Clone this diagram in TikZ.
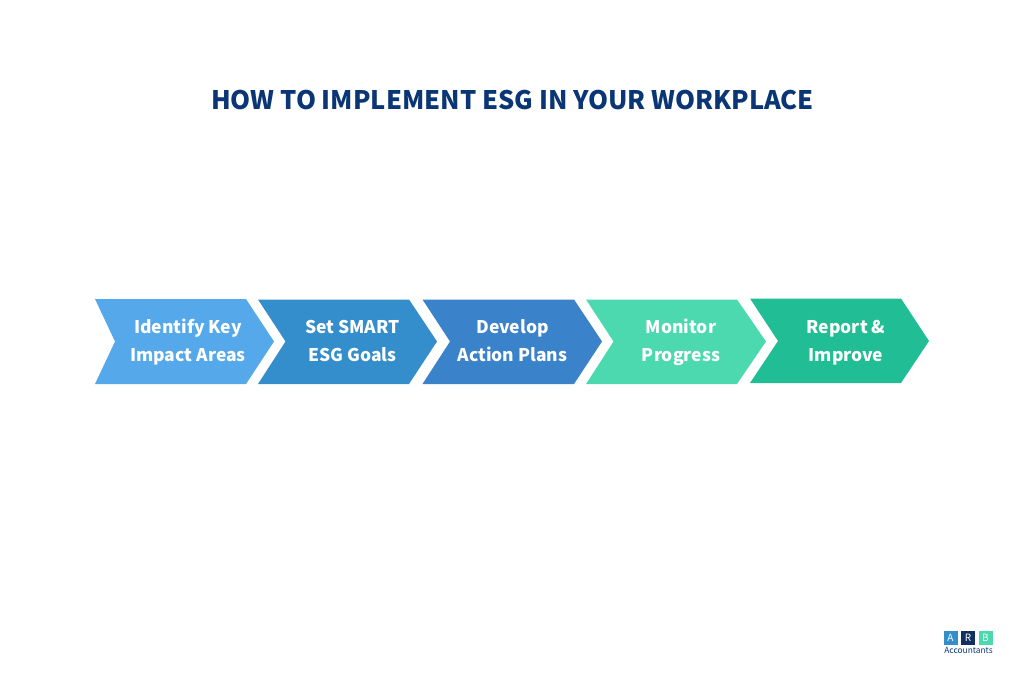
\documentclass[tikz,border=0pt]{standalone}
\usepackage{fontspec}
\setmainfont{Noto Sans CJK SC}
\definecolor{titleblue}{HTML}{0A3675}
\definecolor{skyblue}{HTML}{55A8EA}
\definecolor{midblue}{HTML}{348ECC}
\definecolor{deepblue}{HTML}{3A82CA}
\definecolor{mint}{HTML}{4DD9B0}
\definecolor{teal}{HTML}{21BD94}
\definecolor{logonavy}{HTML}{12305F}
\tikzset{
  titletext/.style={text=titleblue,font=\bfseries\fontsize{25.5}{30}\selectfont},
  steptext/.style={text=white,align=center,font=\bfseries\fontsize{17.5}{28}\selectfont},
  logobox/.style={text=white,minimum size=14pt,inner sep=0pt,font=\fontsize{10}{11}\selectfont},
  logotext/.style={text=titleblue,inner sep=0pt,font=\fontsize{8.4}{9}\selectfont}
}
\begin{document}
\begin{tikzpicture}[x=1pt,y=-1pt]
  \useasboundingbox (0,0) rectangle (1024,683);
  \node[titletext] (title) at (512.5,100.5) {HOW TO IMPLEMENT ESG IN YOUR WORKPLACE};
  % chevrons
  \fill[skyblue] (95,299) -- (246,299) -- (274,341.5) -- (246,384) -- (95,384) -- (115,341.5) -- cycle;
  \fill[midblue] (258,299.5) -- (409,299.5) -- (437,341.5) -- (409,384) -- (258,384) -- (285.5,341.5) -- cycle;
  \fill[deepblue] (422.5,299.5) -- (574,299.5) -- (602,341.5) -- (574,384) -- (422.5,384) -- (450,341.5) -- cycle;
  \fill[mint] (586,299.5) -- (737,299.5) -- (766,341.5) -- (737,384) -- (586,384) -- (613.5,341.5) -- cycle;
  \fill[teal] (750,298.5) -- (901,298.5) -- (929,341) -- (901,383) -- (750,383) -- (778,341) -- cycle;
  \node[steptext] (identify) at (188,342) {Identify Key\\Impact Areas};
  \node[steptext] (smart) at (352.5,341) {Set SMART\\ESG Goals};
  \node[steptext] (develop) at (512.5,341) {Develop\\Action Plans};
  \node[steptext] (monitor) at (681,342) {Monitor\\Progress};
  \node[steptext] (report) at (846,343) {Report \&\\Improve};
  % logo
  \node[logobox,fill=midblue] (logoa) at (950.5,638) {A};
  \node[logobox,fill=logonavy] (logor) at (968,638) {R};
  \node[logobox,fill=mint] (logob) at (985.5,638) {B};
  \node[logotext] (logoname) at (968.5,650) {Accountants};
\end{tikzpicture}
\end{document}
